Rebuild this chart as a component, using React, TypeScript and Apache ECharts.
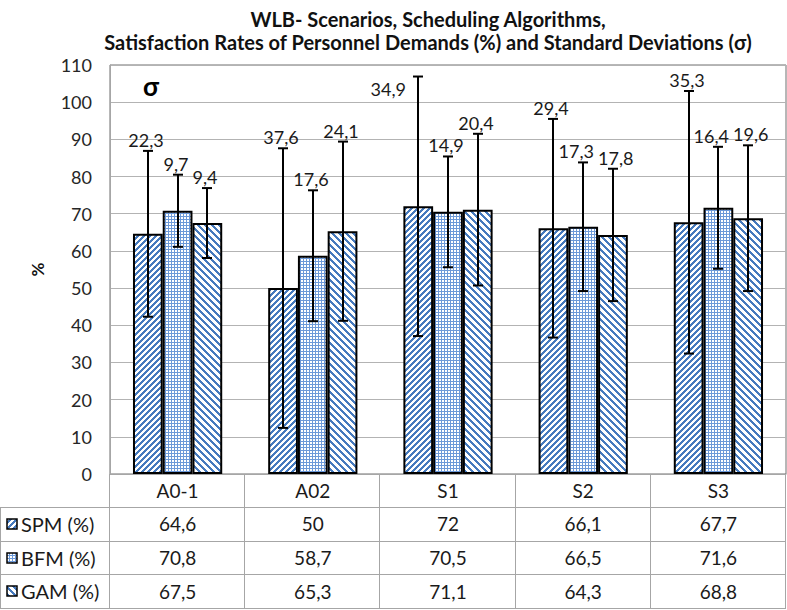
import React, { useEffect, useRef } from "react";
import * as echarts from "echarts";

const categories = ["A0-1", "A02", "S1", "S2", "S3"];
const seriesNames = ["SPM (%)", "BFM (%)", "GAM (%)"];
const spmValues = [64.6, 50, 72, 66.1, 67.7];
const bfmValues = [70.8, 58.7, 70.5, 66.5, 71.6];
const gamValues = [67.5, 65.3, 71.1, 64.3, 68.8];
const spmSigma = [22.3, 37.6, 34.9, 29.4, 35.3];
const bfmSigma = [9.7, 17.6, 14.9, 17.3, 16.4];
const gamSigma = [9.4, 24.1, 20.4, 17.8, 19.6];
const yMin = 0;
const yMax = 110;
const yInterval = 10;
const title = "WLB- Scenarios, Scheduling Algorithms,\nSatisfaction Rates of Personnel Demands (%) and Standard Deviations (σ)";
const sigmaMark = "σ";

const FONT = "Lato, 'Noto Sans', sans-serif";
const W = 787;
const H = 610;
const GRID_LEFT = 110;
const GRID_TOP = 65;
const GRID_RIGHT = 1;
const GRID_BOTTOM_Y = 474;
const HEADER_H = 33;
const ROW_H = 33.7;
const CAT_GAP = 0.34;
const LABEL_H = 18;

const fmt = (v: number) => String(v).replace(".", ",");
const textW = (s: string) => {
  let w = 0;
  for (const ch of s) w += ch === "," ? 4 : 10.4;
  return w;
};

function makePattern(kind: "fwd" | "grid" | "back") {
  const blue = [70, 122, 190];
  const light = [108, 153, 216];
  const size = kind === "fwd" ? 6 : kind === "back" ? 7 : 3;
  const c = document.createElement("canvas");
  c.width = size;
  c.height = size;
  const ctx = c.getContext("2d")!;
  const img = ctx.createImageData(size, size);
  for (let y = 0; y < size; y++) {
    for (let x = 0; x < size; x++) {
      let on = false;
      let col = blue;
      if (kind === "fwd") on = (x + y) % 6 < 3;
      else if (kind === "back") on = (((x - y) % 7) + 7) % 7 < 3;
      else {
        on = x % 3 === 0 || y % 3 === 0;
        col = light;
      }
      const i = (y * size + x) * 4;
      const cc = on ? col : [255, 255, 255];
      img.data[i] = cc[0];
      img.data[i + 1] = cc[1];
      img.data[i + 2] = cc[2];
      img.data[i + 3] = 255;
    }
  }
  ctx.putImageData(img, 0, 0);
  return { image: c.toDataURL(), repeat: "repeat", imageWidth: size, imageHeight: size } as any;
}

export default function App() {
  const ref = useRef<HTMLDivElement>(null);
  useEffect(() => {
    if (!ref.current) return;
    const chart = echarts.init(ref.current, null, { renderer: "svg", width: W, height: H });
    const patterns = [makePattern("fwd"), makePattern("grid"), makePattern("back")];
    const values = [spmValues, bfmValues, gamValues];
    const sigmas = [spmSigma, bfmSigma, gamSigma];

    const gridWidth = W - GRID_LEFT - GRID_RIGHT;
    const gridHeight = GRID_BOTTOM_Y - GRID_TOP;
    const colW = gridWidth / categories.length;
    const pxPerUnit = gridHeight / (yMax - yMin);
    const bwPx = (colW * (1 - CAT_GAP)) / 3;

    // label horizontal shifts to avoid collisions between neighbouring labels
    const shifts = values.map(() => categories.map(() => 0));
    categories.forEach((_, ci) => {
      for (let si = 0; si < 2; si++) {
        const t1 = values[si][ci] + sigmas[si][ci];
        const t2 = values[si + 1][ci] + sigmas[si + 1][ci];
        if (Math.abs(t1 - t2) * pxPerUnit >= LABEL_H) continue;
        const w1 = textW(fmt(sigmas[si][ci]));
        const w2 = textW(fmt(sigmas[si + 1][ci]));
        const need = (w1 + w2) / 2 + 4 - bwPx;
        if (need > 0) {
          shifts[si][ci] -= need / 2;
          shifts[si + 1][ci] += need / 2;
        }
      }
    });

    const barSeries = values.map((vals, si) => ({
      type: "bar",
      name: seriesNames[si],
      data: vals,
      barGap: "0%",
      barCategoryGap: CAT_GAP * 100 + "%",
      itemStyle: { color: patterns[si], borderColor: "#000", borderWidth: 2 },
      z: 2,
    }));

    const errSeries = values.map((vals, si) => ({
      type: "custom",
      name: seriesNames[si] + " σ",
      data: vals.map((v, i) => [i, v, sigmas[si][i]]),
      encode: { x: 0, y: 1 },
      z: 5,
      clip: false,
      renderItem: (params: any, api: any) => {
        const idx = api.value(0);
        const v = api.value(1);
        const s = api.value(2);
        const band = api.size([1, 0])[0];
        const bw = (band * (1 - CAT_GAP)) / 3;
        const center = api.coord([idx, v]);
        const cx = Math.round(center[0] + (si - 1) * bw);
        const top = api.coord([idx, v + s])[1];
        const bot = api.coord([idx, v - s])[1];
        const cap = 5;
        const stroke = { stroke: "#000", lineWidth: 2 };
        const overflow = v + s > yMax - 5;
        return {
          type: "group",
          children: [
            { type: "line", shape: { x1: cx, y1: top, x2: cx, y2: bot }, style: stroke },
            { type: "line", shape: { x1: cx - cap, y1: top, x2: cx + cap, y2: top }, style: stroke },
            { type: "line", shape: { x1: cx - cap, y1: bot, x2: cx + cap, y2: bot }, style: stroke },
            {
              type: "text",
              x: overflow ? cx - 12 : cx - 2 + shifts[si][idx],
              y: overflow ? top + 12 : top - 2,
              style: {
                text: fmt(s),
                textAlign: overflow ? "right" : "center",
                textVerticalAlign: overflow ? "middle" : "bottom",
                fill: "#1a1a1a",
                font: `18px ${FONT}`,
              },
            },
          ],
        };
      },
    }));

    const graphics: any[] = [];
    const lineStyle = { stroke: "#a6a6a6", lineWidth: 1 };
    const tableBottom = GRID_BOTTOM_Y + HEADER_H + ROW_H * 3;
    for (let r = 0; r <= 3; r++) {
      const y = Math.round(GRID_BOTTOM_Y + HEADER_H + r * ROW_H) + 0.5;
      graphics.push({ type: "line", shape: { x1: 0, y1: y, x2: W - GRID_RIGHT, y2: y }, style: lineStyle, z: 1 });
    }
    graphics.push({ type: "line", shape: { x1: 0.5, y1: GRID_BOTTOM_Y + HEADER_H, x2: 0.5, y2: tableBottom }, style: lineStyle });
    for (let c = 0; c <= categories.length; c++) {
      const x = Math.round(GRID_LEFT + c * colW) - 0.5;
      graphics.push({ type: "line", shape: { x1: x, y1: GRID_BOTTOM_Y, x2: x, y2: tableBottom }, style: lineStyle });
    }
    values.forEach((vals, si) => {
      const cy = GRID_BOTTOM_Y + HEADER_H + si * ROW_H + ROW_H / 2;
      graphics.push({
        type: "rect",
        shape: { x: 7, y: Math.round(cy - 5), width: 10, height: 10 },
        style: { fill: patterns[si], stroke: "#000", lineWidth: 1.5 },
      });
      graphics.push({
        type: "text",
        x: 21,
        y: cy,
        style: { text: seriesNames[si], textVerticalAlign: "middle", fill: "#1a1a1a", font: `20px ${FONT}` },
      });
      vals.forEach((v, ci) => {
        graphics.push({
          type: "text",
          x: GRID_LEFT + ci * colW + colW / 2,
          y: cy,
          style: { text: fmt(v), textAlign: "center", textVerticalAlign: "middle", fill: "#1a1a1a", font: `19px ${FONT}` },
        });
      });
    });
    graphics.push({
      type: "text",
      x: GRID_LEFT + 41,
      y: GRID_TOP + 21,
      style: { text: sigmaMark, textAlign: "center", textVerticalAlign: "middle", fill: "#000", font: `bold 26px ${FONT}` },
    });

    chart.setOption({
      animation: false,
      textStyle: { fontFamily: FONT },
      title: {
        text: title,
        left: 423,
        top: 2,
        textAlign: "center",
        textStyle: { fontSize: 20, fontWeight: "bold", color: "#111", lineHeight: 23, fontFamily: FONT },
      },
      grid: {
        left: GRID_LEFT,
        top: GRID_TOP,
        right: GRID_RIGHT,
        bottom: H - GRID_BOTTOM_Y,
        show: true,
        borderColor: "#6f6f6f",
        borderWidth: 1,
        containLabel: false,
      },
      xAxis: {
        type: "category",
        data: categories,
        axisLine: { lineStyle: { color: "#a6a6a6" } },
        axisTick: { show: false },
        axisLabel: { color: "#1a1a1a", fontSize: 19, margin: 7, fontFamily: FONT },
      },
      yAxis: {
        type: "value",
        min: yMin,
        max: yMax,
        interval: yInterval,
        name: "%",
        nameLocation: "middle",
        nameGap: 64,
        nameRotate: 90,
        nameTextStyle: { fontSize: 17, fontWeight: "bold", color: "#111", fontFamily: FONT },
        axisLine: { show: true, lineStyle: { color: "#a6a6a6" } },
        axisTick: { show: false },
        axisLabel: { color: "#262626", fontSize: 18, margin: 18, fontFamily: FONT },
        splitLine: { lineStyle: { color: "#b3b3b3", width: 1 } },
      },
      series: [...barSeries, ...errSeries],
      graphic: graphics,
    });
    return () => chart.dispose();
  }, []);
  return <div ref={ref} style={{ position: "absolute", left: 0, top: 0, width: W, height: H, background: "#fff" }} />;
}
